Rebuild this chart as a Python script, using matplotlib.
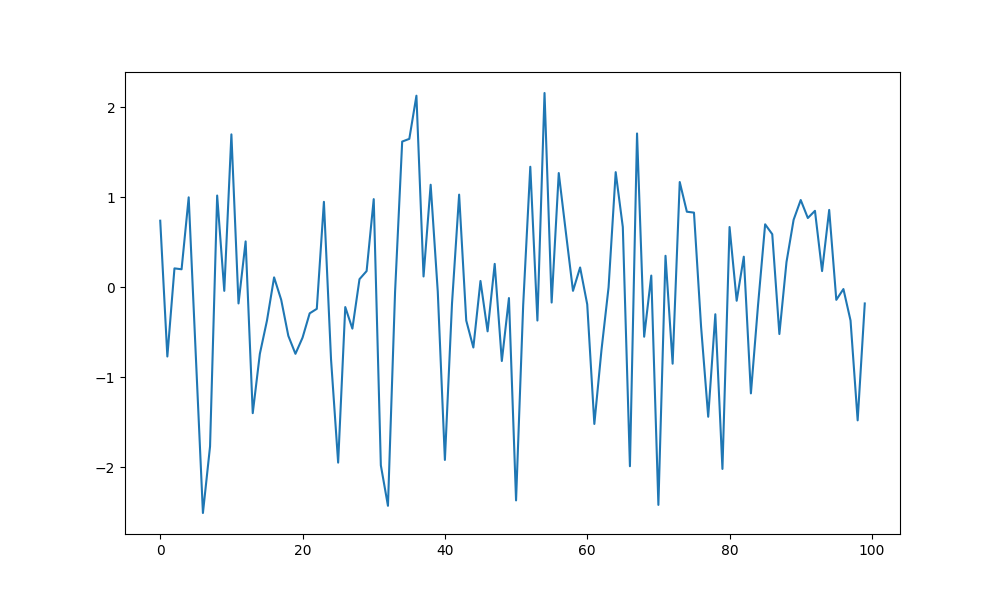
import matplotlib
matplotlib.use("Agg")
import matplotlib.pyplot as plt
import numpy as np

# values, one per index 0..99
values = [
    0.74, -0.77, 0.21, 0.20, 1.00, -0.76, -2.51, -1.77, 1.02, -0.04,
    1.70, -0.18, 0.51, -1.40, -0.74, -0.37, 0.11, -0.14, -0.54, -0.74,
    -0.56, -0.29, -0.24, 0.95, -0.80, -1.95, -0.22, -0.46, 0.09, 0.18,
    0.98, -1.98, -2.43, -0.05, 1.62, 1.65, 2.13, 0.12, 1.14, -0.05,
    -1.92, -0.18, 1.03, -0.37, -0.67, 0.07, -0.49, 0.26, -0.82, -0.12,
    -2.37, -0.20, 1.34, -0.37, 2.16, -0.17, 1.27, 0.61, -0.04, 0.22,
    -0.19, -1.52, -0.70, 0.00, 1.28, 0.67, -1.99, 1.71, -0.55, 0.13,
    -2.42, 0.35, -0.85, 1.17, 0.84, 0.83, -0.44, -1.44, -0.30, -2.02,
    0.67, -0.15, 0.34, -1.18, -0.20, 0.70, 0.59, -0.52, 0.28, 0.75,
    0.97, 0.77, 0.85, 0.18, 0.86, -0.14, -0.02, -0.37, -1.48, -0.18,
]
x = np.arange(len(values))

fig, ax = plt.subplots(figsize=(10, 6), dpi=100)
ax.plot(x, values)

fig.savefig("out.png")
plt.close(fig)
